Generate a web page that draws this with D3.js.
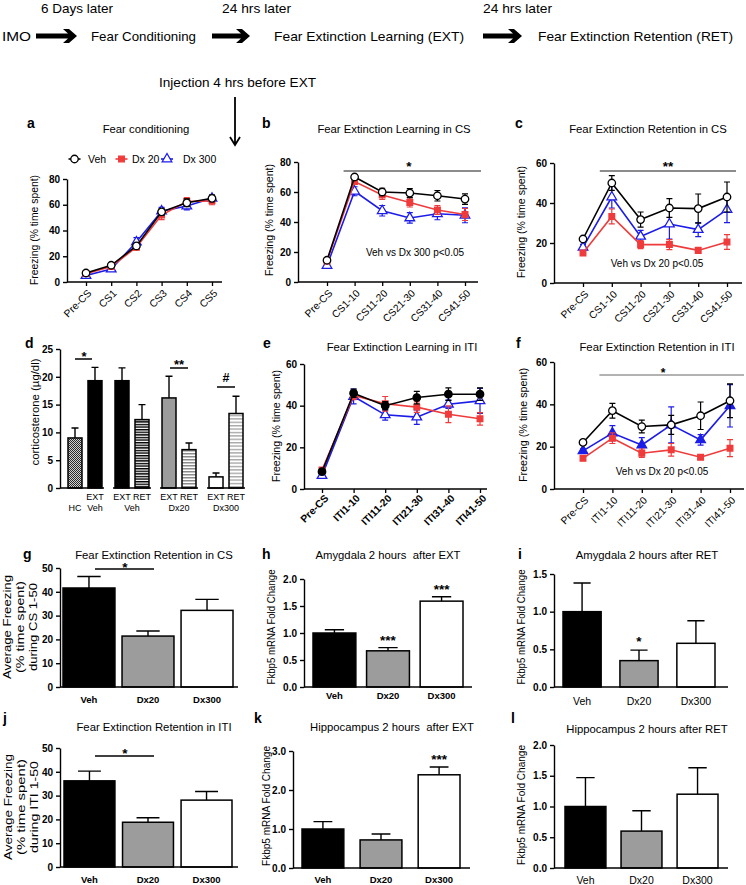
<!DOCTYPE html>
<html><head><meta charset="utf-8">
<script src="https://cdn.jsdelivr.net/npm/d3@7"></script>
<style>
html,body{margin:0;padding:0;background:#fff;}
svg{display:block;}
text{font-family:"Liberation Sans",Arial,Helvetica,sans-serif;}
</style></head>
<body><svg id="chart" width="746" height="885"></svg>
<script>
// ================= DATA =================
const legendNames = ["Veh","Dx 20","Dx 300"];

const catsA = ["Pre-CS","CS1","CS2","CS3","CS4","CS5"];
const aVeh   = [7,13,28,54.5,61.5,65];      const aVehErr   = [1,1.5,2,2.5,3,2.5];
const aDx20  = [6.5,12,27,52,62.5,63];      const aDx20Err  = [1,1.5,2,3.5,3,3];
const aDx300 = [5,10,31,55,59,65];          const aDx300Err = [1,1.5,3.5,3,3,2.5];

const catsB = ["Pre-CS","CS1-10","CS11-20","CS21-30","CS31-40","CS41-50"];
const bVeh   = [14.5,70,60,59.3,57.5,55.3]; const bVehErr   = [1.5,1.5,2.5,3,3.5,3.5];
const bDx20  = [14,67,58,53,48,45];         const bDx20Err  = [1,2,3,3,3,4];
const bDx300 = [11,60.5,47.5,42.7,45.5,44.5]; const bDx300Err = [2,3,3.5,3.5,4,5];

const catsC = ["Pre-CS","CS1-10","CS11-20","CS21-30","CS31-40","CS41-50"];
const cVeh   = [22,50,31.7,37.5,37.2,43];   const cVehErr   = [1,3.7,3.8,4.7,7.3,7.5];
const cDx20  = [15,33.3,19.2,19.2,16.3,20.5]; const cDx20Err = [1,3.7,2,2.5,1.5,3.7];
const cDx300 = [17.8,43,23.3,29.5,26.7,36.7]; const cDx300Err = [1.5,5.5,3,7.5,3.5,6.5];

const catsE = ["Pre-CS","ITI1-10","ITI11-20","ITI21-30","ITI31-40","ITI41-50"];
const eVeh   = [8.3,46,40,43.9,45.5,45.5];  const eVehErr   = [1,2,2,3,3,3];
const eDx20  = [9.1,44.9,40.9,39.3,35.9,33.7]; const eDx20Err = [1,2,3.5,2.5,4,3];
const eDx300 = [6.4,44.4,35.6,34.5,40.7,42.3]; const eDx300Err = [1,3.5,2.5,3.5,2,6];

const catsF = ["Pre-CS","ITI1-10","ITI11-20","ITI21-30","ITI31-40","ITI41-50"];
const fVeh   = [22,37,29.5,30.3,34.6,41.7]; const fVehErr   = [1,3.5,3,4.5,6.5,8];
const fDx20  = [14.5,24,16.9,18.5,15,19.3]; const fDx20Err  = [1,2.5,2,3,1,4];
const fDx300 = [18,26.4,20.8,30.3,23.2,39.3]; const fDx300Err = [1,3.5,3.5,8.5,2.5,10];

// panel d: corticosterone (µg/dl)
const dGroups     = ["HC / EXT Veh","Veh","Dx20","Dx300"];
const dConds      = ["first","second"];
const dVals       = [9,19.3,19.3,12.3,16.2,6.9,2.0,13.4];
const dErrs       = [1.8,2.4,2.3,2.7,3.9,1.2,0.7,3.1];
const dTopLabels  = ["","EXT","EXT","RET","EXT","RET","EXT","RET"];
const dBarLabels  = ["HC","Veh","","","","","",""];
const dGroupLabels= ["","Veh","Dx20","Dx300"];
const dTicks      = [0,5,10,15,20,25];

// bar panels
const barCats = ["Veh","Dx20","Dx300"];
const gVals = [41.6,21.4,32.2];  const gErrs = [4.8,2.1,4.6];
const hVals = [1.0,0.67,1.59];   const hErrs = [0.06,0.06,0.08];
const iVals = [1.0,0.35,0.58];   const iErrs = [0.38,0.14,0.30];
const jVals = [36.2,18.8,28.1];  const jErrs = [4.1,1.9,3.6];
const kVals = [1.0,0.72,2.39];   const kErrs = [0.19,0.15,0.2];
const lVals = [1.0,0.6,1.2];     const lErrs = [0.47,0.33,0.43];
const gTicks = [0,10,20,30,40,50];
const hTicks = [0,0.5,1.0,1.5,2.0];
const iTicks = [0,0.5,1.0,1.5];
const jTicks = [0,10,20,30,40,50];
const kTicks = [0,1.0,2.0,3.0];
const lTicks = [0,0.5,1.0,1.5,2.0];

// ================= DRAWING =================
const svg = d3.select("#chart");
const RED = "#ef3b3b", BLUE = "#1c1ce8", GREY = "#9c9c9c";
const SYM = {circ:d3.symbolCircle, sq:d3.symbolSquare, tri:d3.symbolTriangle};
const SZ  = {circ:44, sq:32, tri:40};

function T(x,y,s,o={}){
  const t = svg.append("text").attr("x",x).attr("y",y).text(s)
    .attr("font-size",o.size||10).attr("font-weight",o.bold?"bold":"normal")
    .attr("text-anchor",o.anchor||"start").attr("fill",o.fill||"#000")
    .style("white-space","pre");
  if (o.rot!=null) t.attr("transform",`rotate(${o.rot},${x},${y})`);
  if (o.len) t.attr("textLength",o.len).attr("lengthAdjust","spacingAndGlyphs");
  return t;
}

// ---- patterns ----
const defs = svg.append("defs");
function stripe(id,color,period,thick){
  const p = defs.append("pattern").attr("id",id).attr("patternUnits","userSpaceOnUse")
    .attr("width",4).attr("height",period);
  p.append("rect").attr("width",4).attr("height",period).attr("fill","#fff");
  p.append("rect").attr("width",4).attr("height",thick).attr("fill",color);
}
stripe("stBlack","#000",2.6,1.4);
stripe("stGrey","#8c8c8c",3,1.5);
stripe("stLight","#a8a8a8",3.4,1.4);
const chk = defs.append("pattern").attr("id","chk").attr("patternUnits","userSpaceOnUse")
  .attr("width",2).attr("height",2);
chk.append("rect").attr("width",2).attr("height",2).attr("fill","#d0d0d0");
chk.append("rect").attr("width",1).attr("height",1).attr("fill","#2a2a2a");
chk.append("rect").attr("x",1).attr("y",1).attr("width",1).attr("height",1).attr("fill","#2a2a2a");

// ---- top flow ----
T(41,13,"6 Days later",{size:13.5,len:72});
T(222,13,"24 hrs later",{size:13.5,len:69});
T(483,13,"24 hrs later",{size:13.5,len:69});
T(2,41,"IMO",{size:13.5,len:29});
T(91,41,"Fear Conditioning",{size:13.5,len:105});
T(274,41,"Fear Extinction Learning (EXT)",{size:13.5,len:190});
T(538,41,"Fear Extinction Retention (RET)",{size:13.5,len:195});
T(159,87,"Injection 4 hrs before EXT",{size:13.5,len:157});
function bigArrow(x0,x1,yc){
  svg.append("path").attr("fill","#000")
    .attr("d",`M${x0},${yc-2.6}H${x1-9}L${x1-14},${yc-7}H${x1-8}L${x1},${yc}L${x1-8},${yc+7}H${x1-14}L${x1-9},${yc+2.6}H${x0}Z`);
}
bigArrow(36,77,36); bigArrow(212,250,36); bigArrow(483,522,36);
svg.append("path").attr("fill","none").attr("stroke","#000").attr("stroke-width",1.8)
  .attr("d","M235,97V145M230,137L235,145L240,137");

// ---- helpers ----
function yAxis(g,y,ax,vals,fmt){
  const a = g.append("g").attr("transform",`translate(${ax},0)`)
    .call(d3.axisLeft(y).tickValues(vals).tickFormat(fmt).tickSize(4).tickSizeOuter(0).tickPadding(3));
  a.select(".domain").attr("stroke","#000").attr("stroke-width",1.4);
  a.selectAll(".tick line").attr("stroke","#000").attr("stroke-width",1.4);
  a.selectAll(".tick text").attr("font-size",10).attr("font-weight","bold").attr("fill","#000");
  return a;
}
function xLine(g,x1,x2,yv){
  g.append("line").attr("x1",x1).attr("x2",x2).attr("y1",yv).attr("y2",yv)
    .attr("stroke","#000").attr("stroke-width",1.4);
}

function linePanel(o){
  const g = svg.append("g");
  const x = d3.scalePoint().domain(o.cats).range(o.xr);
  const y = d3.scaleLinear().domain([0,o.max]).range([o.yBot,o.yTop]);
  yAxis(g,y,o.ax,d3.range(0,o.max+1e-6,o.step),d3.format("d"));
  xLine(g,o.ax,o.xEnd,o.yBot);
  const xa = g.append("g").attr("transform",`translate(0,${o.yBot})`)
    .call(d3.axisBottom(x).tickSize(4).tickSizeOuter(0).tickFormat(""));
  xa.select(".domain").remove();
  xa.selectAll(".tick line").attr("stroke","#000").attr("stroke-width",1.3);
  g.selectAll(null).data(o.cats).join("text")
    .attr("transform",d=>`translate(${x(d)+o.lx},${o.yBot+o.ly}) rotate(-45)`)
    .attr("text-anchor","end").attr("font-size",10.3)
    .attr("font-weight",o.xBold?"bold":"normal").text(d=>d);
  o.series.forEach(s=>{
    const pts = o.cats.map((c,i)=>({c,v:s.v[i],e:s.e[i]}));
    g.append("path").attr("fill","none").attr("stroke",s.color).attr("stroke-width",1.2)
      .attr("d",pts.map(d=>`M${x(d.c)},${y(d.v-d.e)}V${y(d.v+d.e)}M${x(d.c)-3},${y(d.v+d.e)}h6M${x(d.c)-3},${y(d.v-d.e)}h6`).join(""));
    g.append("path").datum(pts).attr("fill","none").attr("stroke",s.color).attr("stroke-width",1.6)
      .attr("d",d3.line().x(d=>x(d.c)).y(d=>y(d.v)));
    g.selectAll(null).data(pts).join("path")
      .attr("transform",d=>`translate(${x(d.c)},${y(d.v)})`)
      .attr("d",d3.symbol().type(SYM[s.shape]).size(SZ[s.shape]))
      .attr("fill",s.filled?s.color:"#fff").attr("stroke",s.color).attr("stroke-width",1.3);
  });
  return {g,x,y};
}

function barPanel(o){
  const g = svg.append("g");
  const x = d3.scaleBand().domain(o.cats).range(o.br).paddingInner(o.pi);
  const y = d3.scaleLinear().domain([0,o.max]).range([o.yBot,o.yTop]);
  yAxis(g,y,o.ax,o.ticks,o.fmt);
  const bw = x.bandwidth(), cw = bw*0.45;
  g.append("path").attr("fill","none").attr("stroke","#000").attr("stroke-width",1.4)
    .attr("d",o.cats.map((c,i)=>{const cx=x(c)+bw/2, t=y(o.vals[i]+o.errs[i]);
      return `M${cx},${y(o.vals[i])}V${t}M${cx-cw/2},${t}h${cw}`;}).join(""));
  g.selectAll(null).data(o.cats).join("rect")
    .attr("x",d=>x(d)).attr("width",bw)
    .attr("y",(d,i)=>y(o.vals[i])).attr("height",(d,i)=>y(0)-y(o.vals[i]))
    .attr("fill",(d,i)=>o.fills[i]).attr("stroke","#000").attr("stroke-width",1.5);
  xLine(g,o.ax,o.xEnd,o.yBot);
  g.selectAll(null).data(o.cats).join("text")
    .attr("x",d=>x(d)+bw/2).attr("y",o.ly).attr("text-anchor","middle")
    .attr("font-size",o.xBold?9.5:10.5).attr("font-weight",o.xBold?"bold":"normal").text(d=>d);
  return {g,x,y,bw};
}

function yTitle(lines,xs,yc,size,lens){
  lines.forEach((s,i)=>T(xs[i],yc,s,{size:size||10,anchor:"middle",rot:-90,len:lens?lens[i]:null}));
}
const titleSize = 11.3, letterSize = 14;

// ---------- panel a ----------
T(27,128,"a",{size:letterSize,bold:true});
T(146,133,"Fear conditioning",{size:titleSize,anchor:"middle"});
linePanel({cats:catsA,ax:67,xEnd:222,yTop:179,yBot:282,max:80,step:20,xr:[86,212],lx:6,ly:12,
  series:[{v:aDx300,e:aDx300Err,color:BLUE,shape:"tri"},
          {v:aDx20,e:aDx20Err,color:RED,shape:"sq",filled:true},
          {v:aVeh,e:aVehErr,color:"#000",shape:"circ"}]});
yTitle(["Freezing (% time spent)"],[38],230,10.4,[110]);
// legend
const legSpec = [{c:"#000",s:"circ",f:false,x:74.5,tx:88},{c:RED,s:"sq",f:true,x:121.5,tx:132},{c:BLUE,s:"tri",f:false,x:167,tx:183}];
legendNames.forEach((n,i)=>{
  const L = legSpec[i];
  svg.append("line").attr("x1",L.x-6).attr("x2",L.x+6).attr("y1",159).attr("y2",159).attr("stroke",L.c).attr("stroke-width",1.6);
  svg.append("path").attr("transform",`translate(${L.x},159)`).attr("d",d3.symbol().type(SYM[L.s]).size(SZ[L.s]))
    .attr("fill",L.f?L.c:"#fff").attr("stroke",L.c).attr("stroke-width",1.3);
  T(L.tx,162.5,n,{size:10.5});
});

// ---------- panel b ----------
T(262,128,"b",{size:letterSize,bold:true});
T(394,133,"Fear Extinction Learning in CS",{size:titleSize,anchor:"middle"});
const pb = linePanel({cats:catsB,ax:298,xEnd:478,yTop:162,yBot:282,max:80,step:20,xr:[327,465],lx:6,ly:12,
  series:[{v:bDx300,e:bDx300Err,color:BLUE,shape:"tri"},
          {v:bDx20,e:bDx20Err,color:RED,shape:"sq",filled:true},
          {v:bVeh,e:bVehErr,color:"#000",shape:"circ"}]});
yTitle(["Freezing (% time spent)"],[273],220,10.4,[112]);
svg.append("line").attr("x1",pb.x(catsB[1])-11).attr("x2",481).attr("y1",171).attr("y2",171).attr("stroke","#666").attr("stroke-width",1.3);
T(409,171,"*",{size:13.5,bold:true,anchor:"middle"});
T(415,256,"Veh vs Dx 300 p<0.05",{size:10,anchor:"middle"});

// ---------- panel c ----------
T(515,128,"c",{size:letterSize,bold:true});
T(648,133,"Fear Extinction Retention in CS",{size:titleSize,anchor:"middle"});
const pc = linePanel({cats:catsC,ax:554,xEnd:742,yTop:163,yBot:283,max:60,step:20,xr:[583,727],lx:6,ly:12,
  series:[{v:cDx300,e:cDx300Err,color:BLUE,shape:"tri"},
          {v:cDx20,e:cDx20Err,color:RED,shape:"sq",filled:true},
          {v:cVeh,e:cVehErr,color:"#000",shape:"circ"}]});
yTitle(["Freezing (% time spent)"],[525],222,10.4,[112]);
svg.append("line").attr("x1",pc.x(catsC[1])-12).attr("x2",736).attr("y1",171).attr("y2",171).attr("stroke","#666").attr("stroke-width",1.3);
T(668,171,"**",{size:13.5,bold:true,anchor:"middle"});
T(657,267,"Veh vs Dx 20 p<0.05",{size:10,anchor:"middle"});

// ---------- panel d ----------
T(25,348,"d",{size:letterSize,bold:true});
(function(){
  const g = svg.append("g");
  const x0 = d3.scaleBand().domain(dGroups).range([68,243]).paddingInner(0.277);
  const x1 = d3.scaleBand().domain(dConds).range([0,x0.bandwidth()]).paddingInner(0.3);
  const y = d3.scaleLinear().domain([0,25]).range([488,349]);
  yAxis(g,y,60,dTicks,d3.format("d"));
  const fills = ["url(#chk)","#000","#000","url(#stBlack)",GREY,"url(#stGrey)","#fff","url(#stLight)"];
  const bw = x1.bandwidth(), cw = bw*0.5;
  const bx = i => x0(dGroups[Math.floor(i/2)]) + x1(dConds[i%2]);
  g.append("path").attr("fill","none").attr("stroke","#000").attr("stroke-width",1.4)
    .attr("d",dVals.map((v,i)=>{const cx=bx(i)+bw/2,t=y(v+dErrs[i]);return `M${cx},${y(v)}V${t}M${cx-cw/2},${t}h${cw}`;}).join(""));
  g.selectAll(null).data(dVals).join("rect")
    .attr("x",(d,i)=>bx(i)).attr("width",bw).attr("y",d=>y(d)).attr("height",d=>y(0)-y(d))
    .attr("fill",(d,i)=>fills[i]).attr("stroke","#000").attr("stroke-width",1.5);
  dGroups.forEach((gr,k)=>{
    const s = k===0 ? 60 : x0(gr)-2;
    xLine(g,s,x0(gr)+x0.bandwidth()+2,488);
    if (dGroupLabels[k]) T(x0(gr)+x0.bandwidth()/2,511,dGroupLabels[k],{size:9,anchor:"middle"});
  });
  dVals.forEach((v,i)=>{
    if (dTopLabels[i]) T(bx(i)+bw/2,500,dTopLabels[i],{size:9,anchor:"middle"});
    if (dBarLabels[i]) T(bx(i)+bw/2,511,dBarLabels[i],{size:9,anchor:"middle"});
  });
  const c = i => bx(i)+bw/2;
  svg.append("path").attr("stroke","#000").attr("stroke-width",1.3)
    .attr("d",`M${c(0)},359H${c(1)-3}M${c(4)+1},368H${c(5)-1}M${c(6)+1},387H${c(7)-1}`);
  T((c(0)+c(1))/2-1,361,"*",{size:13,bold:true,anchor:"middle"});
  T((c(4)+c(5))/2,369,"**",{size:13,bold:true,anchor:"middle"});
  T((c(6)+c(7))/2,382,"#",{size:12.5,bold:true,anchor:"middle"});
})();
yTitle(["corticosterone (µg/dl)"],[39],412,10.5,[107]);

// ---------- panel e ----------
T(263,348,"e",{size:letterSize,bold:true});
T(402,351,"Fear Extinction Learning in ITI",{size:titleSize,anchor:"middle"});
linePanel({cats:catsE,ax:304,xEnd:487,yTop:364,yBot:489,max:60,step:20,xr:[322,480],lx:7,ly:10,xBold:true,
  series:[{v:eDx300,e:eDx300Err,color:BLUE,shape:"tri"},
          {v:eDx20,e:eDx20Err,color:RED,shape:"sq",filled:true},
          {v:eVeh,e:eVehErr,color:"#000",shape:"circ",filled:true}]});
yTitle(["Freezing (% time spent)"],[280],426,10.4,[112]);

// ---------- panel f ----------
T(516,348,"f",{size:letterSize,bold:true});
T(657,351,"Fear Extinction Retention in ITI",{size:titleSize,anchor:"middle"});
const pf = linePanel({cats:catsF,ax:554,xEnd:744,yTop:362,yBot:489,max:60,step:20,xr:[583,730],lx:6,ly:12,
  series:[{v:fDx300,e:fDx300Err,color:BLUE,shape:"tri",filled:true},
          {v:fDx20,e:fDx20Err,color:RED,shape:"sq",filled:true},
          {v:fVeh,e:fVehErr,color:"#000",shape:"circ"}]});
yTitle(["Freezing (% time spent)"],[527],425,10.4,[114]);
svg.append("line").attr("x1",pf.x(catsF[1])-13).attr("x2",744).attr("y1",375).attr("y2",375).attr("stroke","#666").attr("stroke-width",1);
T(663,377,"*",{size:12,bold:true,anchor:"middle"});
T(662,475,"Veh vs Dx 20 p<0.05",{size:10,anchor:"middle"});

// ---------- panel g ----------
T(23,559,"g",{size:letterSize,bold:true});
T(154,559,"Fear Extinction Retention in CS",{size:titleSize,anchor:"middle"});
barPanel({cats:barCats,vals:gVals,errs:gErrs,ax:60,xEnd:238,yTop:568,yBot:687,max:50,ticks:gTicks,fmt:d3.format("d"),
  br:[63,233],pi:0.12,fills:["#000",GREY,"#fff"],ly:703,xBold:true});
yTitle(["Average Freezing","(% time spent)","during CS 1-50"],[11,24,37],627,11,[104,92,88]);
svg.append("line").attr("x1",95).attr("x2",154).attr("y1",569).attr("y2",569).attr("stroke","#000").attr("stroke-width",1.3);
T(125,572,"*",{size:13.5,bold:true,anchor:"middle"});

// ---------- panel h ----------
T(262,559,"h",{size:letterSize,bold:true});
T(388,559,"Amygdala 2 hours  after EXT",{size:titleSize,anchor:"middle"});
const ph = barPanel({cats:barCats,vals:hVals,errs:hErrs,ax:304,xEnd:472,yTop:579,yBot:687,max:2.0,ticks:hTicks,fmt:d3.format(".1f"),
  br:[313,463],pi:0.2,fills:["#000",GREY,"#fff"],ly:699,xBold:true});
yTitle(["Fkbp5 mRNA Fold Change"],[275],627,10.3,[115]);
[1,2].forEach(i=>T(ph.x(barCats[i])+ph.bw/2,ph.y(hVals[i]+hErrs[i])-3,"***",{size:13.5,bold:true,anchor:"middle"}));

// ---------- panel i ----------
T(518,559,"i",{size:letterSize,bold:true});
T(647,559,"Amygdala 2 hours after RET",{size:titleSize,anchor:"middle"});
const pi_ = barPanel({cats:barCats,vals:iVals,errs:iErrs,ax:554,xEnd:728,yTop:574,yBot:687,max:1.5,ticks:iTicks,fmt:d3.format(".1f"),
  br:[563,715],pi:0.33,fills:["#000",GREY,"#fff"],ly:705,xBold:false});
yTitle(["Fkbp5 mRNA Fold Change"],[525],627,10.3,[115]);
T(pi_.x(barCats[1])+pi_.bw/2,pi_.y(iVals[1]+iErrs[1])-4,"*",{size:13.5,bold:true,anchor:"middle"});

// ---------- panel j ----------
T(3,723,"j",{size:letterSize,bold:true});
T(154,731,"Fear Extinction Retention in ITI",{size:titleSize,anchor:"middle"});
barPanel({cats:barCats,vals:jVals,errs:jErrs,ax:60,xEnd:238,yTop:748,yBot:867,max:50,ticks:jTicks,fmt:d3.format("d"),
  br:[64,232],pi:0.13,fills:["#000",GREY,"#fff"],ly:883,xBold:true});
yTitle(["Average Freezing","(% time spent)","during ITI 1-50"],[12,25,38],807,11,[106,96,92]);
svg.append("line").attr("x1",95).attr("x2",154).attr("y1",756).attr("y2",756).attr("stroke","#000").attr("stroke-width",1.3);
T(125,758,"*",{size:13.5,bold:true,anchor:"middle"});

// ---------- panel k ----------
T(254,723,"k",{size:letterSize,bold:true});
T(392,731,"Hippocampus 2 hours  after EXT",{size:titleSize,anchor:"middle"});
const pk = barPanel({cats:barCats,vals:kVals,errs:kErrs,ax:293,xEnd:470,yTop:751,yBot:868,max:3.0,ticks:kTicks,fmt:d3.format(".1f"),
  br:[302,460],pi:0.28,fills:["#000",GREY,"#fff"],ly:883,xBold:true});
yTitle(["Fkbp5 mRNA Fold Change"],[270],806,10.5,[120]);
T(pk.x(barCats[2])+pk.bw/2,pk.y(kVals[2]+kErrs[2])-3,"***",{size:13.5,bold:true,anchor:"middle"});

// ---------- panel l ----------
T(511,723,"l",{size:letterSize,bold:true});
T(647,733,"Hippocampus 2 hours after RET",{size:titleSize,anchor:"middle"});
barPanel({cats:barCats,vals:lVals,errs:lErrs,ax:554,xEnd:728,yTop:745,yBot:868,max:2.0,ticks:lTicks,fmt:d3.format(".1f"),
  br:[565,718],pi:0.27,fills:["#000",GREY,"#fff"],ly:884,xBold:false});
yTitle(["Fkbp5 mRNA Fold Change"],[525],805,10.5,[120]);
</script></body></html>
